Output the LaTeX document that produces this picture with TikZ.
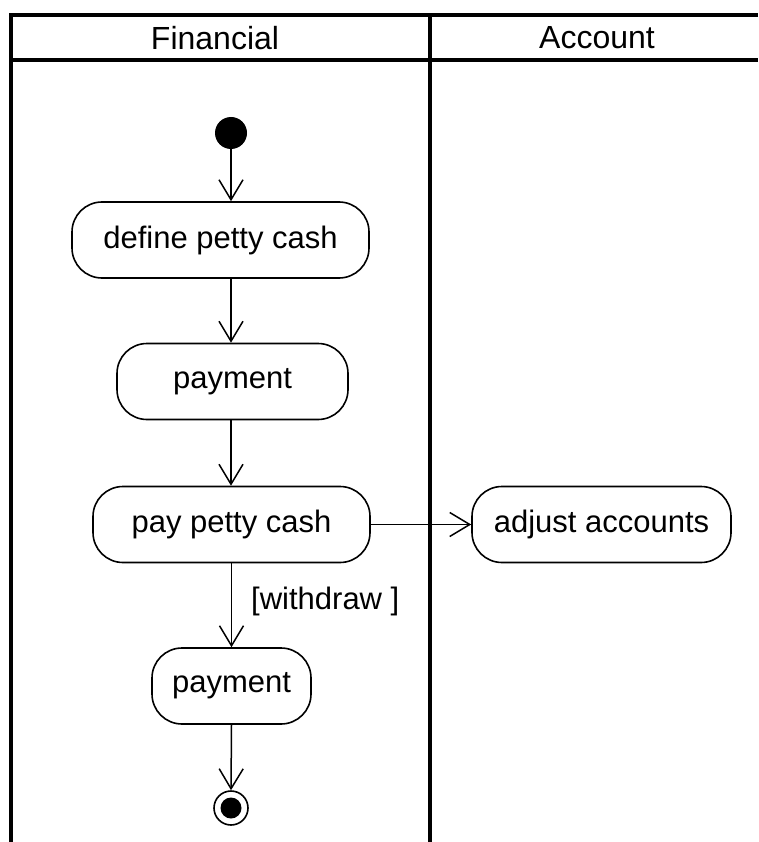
\documentclass[tikz,border=0pt]{standalone}
\usepackage{fontspec}
\setmainfont{Liberation Sans}
\usetikzlibrary{arrows.meta}
\begin{document}
\begin{tikzpicture}[x=1pt,y=-1pt,
  lane/.style={line width=3.2pt},
  activity/.style={draw, line width=1.6pt, rounded corners=30pt,
    minimum height=76pt, inner sep=0pt,
    font=\fontsize{31}{36}\selectfont},
  flow/.style={line width=1.5pt, -{Straight Barb[length=20pt,width=24pt,line width=1.5pt]}},
  lanetitle/.style={font=\fontsize{32}{36}\selectfont}
]
\useasboundingbox (0,0) rectangle (758,842);
% swimlane frame
\draw[lane] (758,15) -- (11,15) -- (11,842);
\draw[lane] (11,60) -- (758,60);
\draw[lane] (430,15) -- (430,842);
\node[lanetitle] (tfin) at (215,38) {Financial};
\node[lanetitle] (tacc) at (597,38) {Account};
% start and final states
\node[circle, fill=black, minimum size=32pt, inner sep=0pt] (start) at (231,133) {};
\node[circle, draw, line width=1.6pt, minimum size=34pt, inner sep=0pt] (final) at (231,808) {};
\fill (final.center) circle (10.5pt);
% activities
\node[activity, minimum width=297pt] (define) at (220.5,240) {define petty cash};
\node[activity, minimum width=231pt] (pay1) at (232.5,381.5) {payment};
\node[activity, minimum width=277pt] (paypc) at (231.5,524.5) {pay petty cash};
\node[activity, minimum width=259pt] (adjust) at (601.5,524.5) {adjust accounts};
\node[activity, minimum width=159pt] (pay2) at (231.5,686) {payment};
% transitions
\draw[flow] (start) -- (start |- define.north);
\draw[flow] (start |- define.south) -- (start |- pay1.north);
\draw[flow] (start |- pay1.south) -- (start |- paypc.north);
\draw[flow] (paypc.south) -- (pay2.north);
\node[anchor=west, font=\fontsize{31}{36}\selectfont, inner sep=0pt] (guard) at (251,601) {[withdraw ]};
\draw[flow] (pay2.south) -- (final.north);
\draw[flow] (paypc.east) -- (adjust.west);
\end{tikzpicture}
\end{document}
